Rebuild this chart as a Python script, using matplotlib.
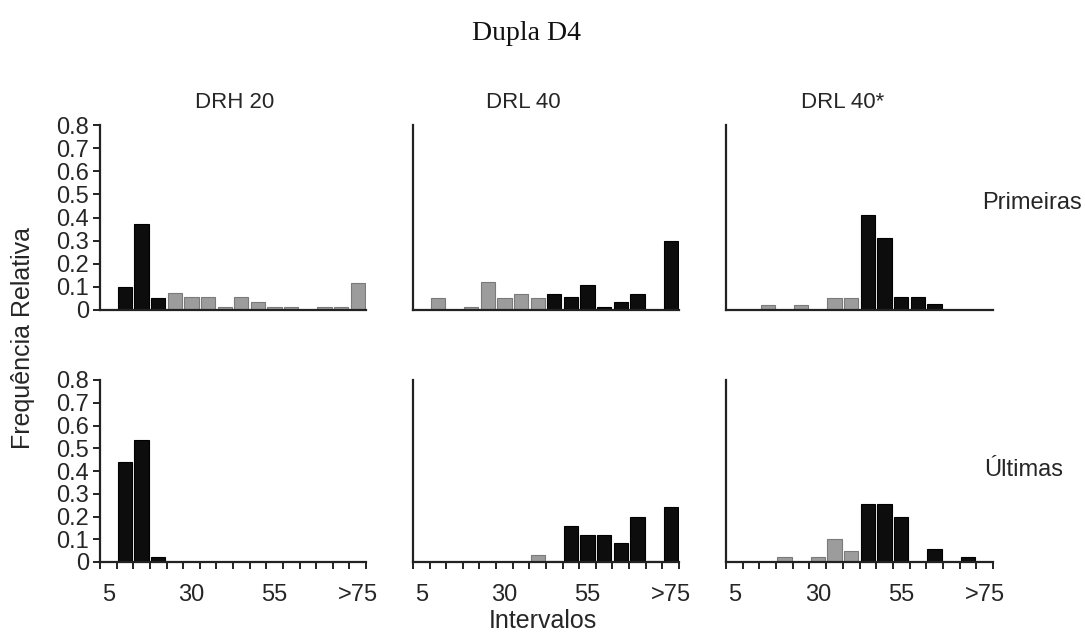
import numpy as np
import matplotlib
matplotlib.use("Agg")
import matplotlib.pyplot as plt

plt.rcParams['font.family'] = ['Liberation Sans', 'DejaVu Sans']

# bins: 5, 10, ..., 75, >75
bin_labels = [str(v) for v in range(5, 80, 5)] + ['>75']
shown_labels = ['5', '30', '55', '>75']

schedules = ['DRH 20', 'DRL 40', 'DRL 40*']
phases = ['Primeiras', 'Últimas']

# reinforced bins (black); the rest are gray
drh20_reinforced = [0, 1, 2, 3]
drl40_reinforced = list(range(8, 16))

# frequência relativa
drh20_first = [0, 0.10, 0.37, 0.05, 0.075, 0.055, 0.055, 0.015, 0.055, 0.035, 0.015, 0.015, 0, 0.015, 0.015, 0.115]
drl40_first = [0, 0.05, 0, 0.015, 0.12, 0.05, 0.07, 0.05, 0.07, 0.055, 0.11, 0.015, 0.035, 0.07, 0, 0.30]
drl40s_first = [0, 0, 0.02, 0, 0.02, 0, 0.05, 0.05, 0.41, 0.31, 0.055, 0.055, 0.025, 0, 0, 0]

drh20_last = [0, 0.44, 0.535, 0.02, 0, 0, 0, 0, 0, 0, 0, 0, 0, 0, 0, 0]
drl40_last = [0, 0, 0, 0, 0, 0, 0, 0.03, 0.005, 0.16, 0.12, 0.12, 0.085, 0.20, 0.005, 0.24]
drl40s_last = [0, 0, 0, 0.02, 0, 0.02, 0.10, 0.05, 0.255, 0.255, 0.20, 0, 0.055, 0, 0.02, 0]

values = [[drh20_first, drl40_first, drl40s_first],
          [drh20_last, drl40_last, drl40s_last]]
reinforced = [drh20_reinforced, drl40_reinforced, drl40_reinforced]

fig = plt.figure(figsize=(10.85, 6.35), dpi=100)

W, H = 1085, 635
col_px = [(100, 366), (413, 679), (726, 993)]
row_px = [(125, 310), (380, 562)]

x = np.arange(len(bin_labels))
black = '#0d0d0d'
gray = '#9c9c9c'
axis_col = '#222222'
txt_col = '#262626'

for r in range(2):
    for c in range(3):
        l, rt = col_px[c]
        t, b = row_px[r]
        ax = fig.add_axes([l / W, 1 - b / H, (rt - l) / W, (b - t) / H])
        vals = values[r][c]
        colors = [black if i in reinforced[c] else gray for i in x]
        edges = ['#000000' if i in reinforced[c] else '#7a7a7a' for i in x]
        ax.bar(x, vals, width=0.86, color=colors, edgecolor=edges, linewidth=0.8, zorder=2)
        ax.set_xlim(-0.5, len(bin_labels) - 0.5)
        ax.set_ylim(0, 0.8)
        for s in ['top', 'right']:
            ax.spines[s].set_visible(False)
        for s in ['left', 'bottom']:
            ax.spines[s].set_linewidth(1.6)
            ax.spines[s].set_color(axis_col)
        ax.spines['bottom'].set_zorder(3)

        if c == 0:
            ax.set_yticks(np.arange(0, 0.81, 0.1))
            ax.set_yticklabels(['0'] + ['%.1f' % v for v in np.arange(0.1, 0.81, 0.1)])
            ax.tick_params(axis='y', direction='out', length=5, width=1.4, color=axis_col,
                           labelsize=17, pad=3, labelcolor=txt_col)
        else:
            ax.set_yticks([])

        if r == 1:
            ax.set_xticks(np.arange(-0.5, len(bin_labels), 1.0))
            ax.set_xticklabels([])
            ax.set_xticks([x[bin_labels.index(s)] for s in shown_labels], minor=True)
            ax.set_xticklabels(shown_labels, minor=True)
            ax.tick_params(axis='x', which='major', direction='out', length=5, width=1.4, color=axis_col)
            ax.tick_params(axis='x', which='minor', length=0, labelsize=17, pad=16, labelcolor=txt_col)
        else:
            ax.set_xticks([])

fig.text(526 / W, 1 - 33 / H, 'Dupla D4', family='Liberation Serif', fontsize=20,
         ha='center', va='center', color='#111111')

title_x = [235, 523, 843]
for name, tx in zip(schedules, title_x):
    fig.text(tx / W, 1 - 102 / H, name, fontsize=16, ha='center', va='center', color=txt_col)

fig.text(982 / W, 1 - 203 / H, phases[0], fontsize=17, ha='left', va='center', color=txt_col)
fig.text(984 / W, 1 - 470 / H, phases[1], fontsize=17, ha='left', va='center', color=txt_col)

fig.text(23 / W, 1 - 338 / H, 'Frequência Relativa', fontsize=18, rotation=90,
         ha='center', va='center', color=txt_col)
fig.text(543 / W, 1 - 621 / H, 'Intervalos', fontsize=18, ha='center', va='center', color=txt_col)

fig.savefig('out.png', dpi=100)
